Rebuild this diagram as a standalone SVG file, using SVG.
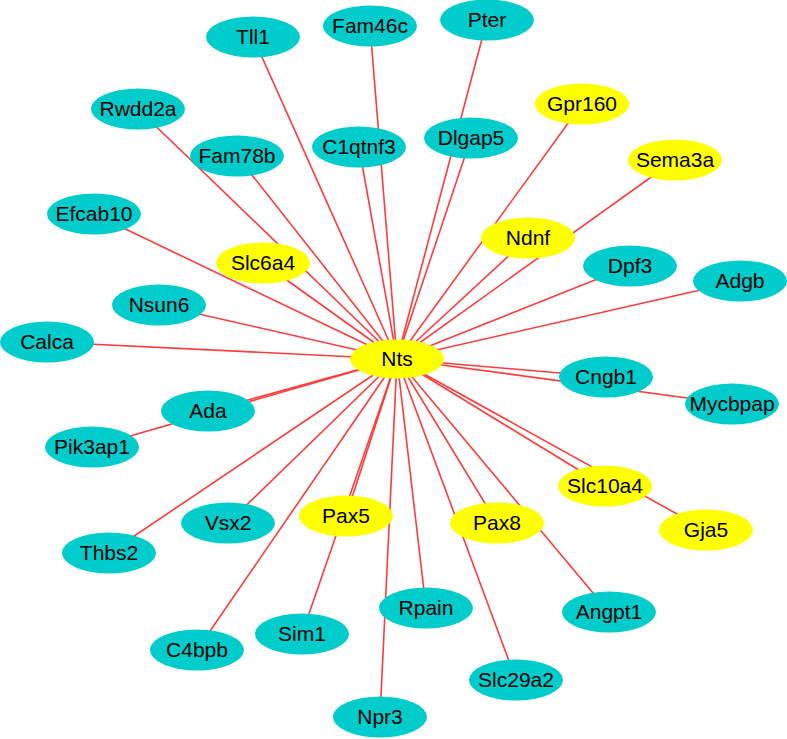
<svg xmlns="http://www.w3.org/2000/svg" width="787" height="739" viewBox="0 0 787 739">
<style>
.e{stroke:#ff3b3b;stroke-width:1.6;fill:none}
.c{fill:#00cccc}
.y{fill:#ffff00}
text{font-family:"Liberation Sans",Arial,sans-serif;font-size:21px;fill:#000;text-anchor:middle}
</style>
<g id="edges" class="e">
<line x1="397" y1="359" x2="253" y2="37"/>
<line x1="397" y1="359" x2="370" y2="26"/>
<line x1="397" y1="359" x2="487" y2="20"/>
<line x1="397" y1="359" x2="138" y2="109"/>
<line x1="397" y1="359" x2="237" y2="156"/>
<line x1="397" y1="359" x2="359" y2="147"/>
<line x1="397" y1="359" x2="471" y2="138"/>
<line x1="397" y1="359" x2="582" y2="104"/>
<line x1="397" y1="359" x2="675" y2="160"/>
<line x1="397" y1="359" x2="94" y2="214"/>
<line x1="397" y1="359" x2="528" y2="238"/>
<line x1="397" y1="359" x2="263" y2="263"/>
<line x1="397" y1="359" x2="630" y2="266"/>
<line x1="397" y1="359" x2="740" y2="281"/>
<line x1="397" y1="359" x2="159" y2="305"/>
<line x1="397" y1="359" x2="47" y2="342"/>
<line x1="397" y1="359" x2="606" y2="377"/>
<line x1="397" y1="359" x2="732" y2="404"/>
<line x1="397" y1="359" x2="208" y2="411"/>
<line x1="397" y1="359" x2="92" y2="447"/>
<line x1="397" y1="359" x2="605" y2="486"/>
<line x1="397" y1="359" x2="228" y2="523"/>
<line x1="397" y1="359" x2="109" y2="553"/>
<line x1="397" y1="359" x2="346" y2="516"/>
<line x1="397" y1="359" x2="497" y2="523"/>
<line x1="397" y1="359" x2="706" y2="530"/>
<line x1="397" y1="359" x2="609" y2="612"/>
<line x1="397" y1="359" x2="426" y2="608"/>
<line x1="397" y1="359" x2="302" y2="634"/>
<line x1="397" y1="359" x2="197" y2="650"/>
<line x1="397" y1="359" x2="516" y2="680"/>
<line x1="397" y1="359" x2="380" y2="717"/>
</g>
<g id="Tll1"><ellipse class="c" cx="253" cy="37" rx="47" ry="20.5"/><text x="253" y="37" dy="0.35em">Tll1</text></g>
<g id="Fam46c"><ellipse class="c" cx="370" cy="26" rx="47" ry="20.5"/><text x="370" y="26" dy="0.35em">Fam46c</text></g>
<g id="Pter"><ellipse class="c" cx="487" cy="20" rx="47" ry="20.5"/><text x="487" y="20" dy="0.35em">Pter</text></g>
<g id="Rwdd2a"><ellipse class="c" cx="138" cy="109" rx="47" ry="20.5"/><text x="138" y="109" dy="0.35em">Rwdd2a</text></g>
<g id="Fam78b"><ellipse class="c" cx="237" cy="156" rx="47" ry="20.5"/><text x="237" y="156" dy="0.35em">Fam78b</text></g>
<g id="C1qtnf3"><ellipse class="c" cx="359" cy="147" rx="47" ry="20.5"/><text x="359" y="147" dy="0.35em">C1qtnf3</text></g>
<g id="Dlgap5"><ellipse class="c" cx="471" cy="138" rx="47" ry="20.5"/><text x="471" y="138" dy="0.35em">Dlgap5</text></g>
<g id="Gpr160"><ellipse class="y" cx="582" cy="104" rx="47" ry="20.5"/><text x="582" y="104" dy="0.35em">Gpr160</text></g>
<g id="Sema3a"><ellipse class="y" cx="675" cy="160" rx="47" ry="20.5"/><text x="675" y="160" dy="0.35em">Sema3a</text></g>
<g id="Efcab10"><ellipse class="c" cx="94" cy="214" rx="47" ry="20.5"/><text x="94" y="214" dy="0.35em">Efcab10</text></g>
<g id="Ndnf"><ellipse class="y" cx="528" cy="238" rx="47" ry="20.5"/><text x="528" y="238" dy="0.35em">Ndnf</text></g>
<g id="Slc6a4"><ellipse class="y" cx="263" cy="263" rx="47" ry="20.5"/><text x="263" y="263" dy="0.35em">Slc6a4</text></g>
<g id="Dpf3"><ellipse class="c" cx="630" cy="266" rx="47" ry="20.5"/><text x="630" y="266" dy="0.35em">Dpf3</text></g>
<g id="Adgb"><ellipse class="c" cx="740" cy="281" rx="47" ry="20.5"/><text x="740" y="281" dy="0.35em">Adgb</text></g>
<g id="Nsun6"><ellipse class="c" cx="159" cy="305" rx="47" ry="20.5"/><text x="159" y="305" dy="0.35em">Nsun6</text></g>
<g id="Calca"><ellipse class="c" cx="47" cy="342" rx="47" ry="20.5"/><text x="47" y="342" dy="0.35em">Calca</text></g>
<g id="Nts"><ellipse class="y" cx="397" cy="359" rx="47" ry="19.5"/><text x="397" y="359" dy="0.35em">Nts</text></g>
<g id="Cngb1"><ellipse class="c" cx="606" cy="377" rx="47" ry="20.5"/><text x="606" y="377" dy="0.35em">Cngb1</text></g>
<g id="Mycbpap"><ellipse class="c" cx="732" cy="404" rx="47" ry="20.5"/><text x="732" y="404" dy="0.35em">Mycbpap</text></g>
<g id="Ada"><ellipse class="c" cx="208" cy="411" rx="47" ry="20.5"/><text x="208" y="411" dy="0.35em">Ada</text></g>
<g id="Pik3ap1"><ellipse class="c" cx="92" cy="447" rx="47" ry="20.5"/><text x="92" y="447" dy="0.35em">Pik3ap1</text></g>
<g id="Slc10a4"><ellipse class="y" cx="605" cy="486" rx="47" ry="20.5"/><text x="605" y="486" dy="0.35em">Slc10a4</text></g>
<g id="Vsx2"><ellipse class="c" cx="228" cy="523" rx="47" ry="20.5"/><text x="228" y="523" dy="0.35em">Vsx2</text></g>
<g id="Thbs2"><ellipse class="c" cx="109" cy="553" rx="47" ry="20.5"/><text x="109" y="553" dy="0.35em">Thbs2</text></g>
<g id="Pax5"><ellipse class="y" cx="346" cy="516" rx="47" ry="20.5"/><text x="346" y="516" dy="0.35em">Pax5</text></g>
<g id="Pax8"><ellipse class="y" cx="497" cy="523" rx="47" ry="20.5"/><text x="497" y="523" dy="0.35em">Pax8</text></g>
<g id="Gja5"><ellipse class="y" cx="706" cy="530" rx="47" ry="20.5"/><text x="706" y="530" dy="0.35em">Gja5</text></g>
<g id="Angpt1"><ellipse class="c" cx="609" cy="612" rx="47" ry="20.5"/><text x="609" y="612" dy="0.35em">Angpt1</text></g>
<g id="Rpain"><ellipse class="c" cx="426" cy="608" rx="47" ry="20.5"/><text x="426" y="608" dy="0.35em">Rpain</text></g>
<g id="Sim1"><ellipse class="c" cx="302" cy="634" rx="47" ry="20.5"/><text x="302" y="634" dy="0.35em">Sim1</text></g>
<g id="C4bpb"><ellipse class="c" cx="197" cy="650" rx="47" ry="20.5"/><text x="197" y="650" dy="0.35em">C4bpb</text></g>
<g id="Slc29a2"><ellipse class="c" cx="516" cy="680" rx="47" ry="20.5"/><text x="516" y="680" dy="0.35em">Slc29a2</text></g>
<g id="Npr3"><ellipse class="c" cx="380" cy="717" rx="47" ry="20.5"/><text x="380" y="717" dy="0.35em">Npr3</text></g>
</svg>
